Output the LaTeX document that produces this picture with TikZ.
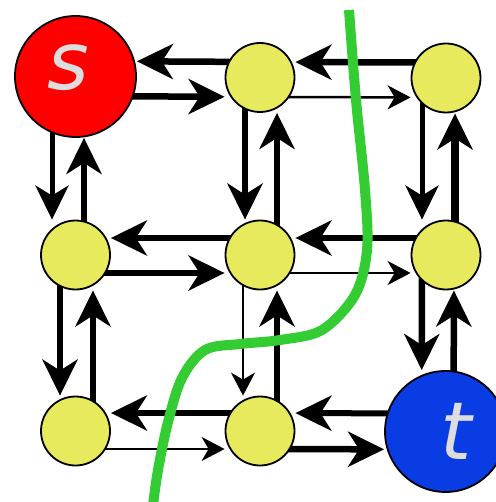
\documentclass[tikz,border=0pt]{standalone}
\usepackage{fontspec}
\usepackage{tikz}
\usetikzlibrary{arrows.meta,backgrounds}
\newfontfamily\termfont{DejaVu Sans}
\definecolor{srcred}{RGB}{255,0,0}
\definecolor{sinkblue}{RGB}{10,60,228}
\definecolor{vertyellow}{RGB}{232,234,94}
\definecolor{cutgreen}{RGB}{51,204,51}
\definecolor{termgrey}{RGB}{221,221,221}
\tikzset{
    vertex/.style={
        circle,
        draw,
        line width=1.8pt,
        fill=vertyellow,
        inner sep=0pt,
        minimum size=69pt
    },
    terminal/.style={
        circle,
        draw,
        line width=1.8pt,
        inner sep=0pt,
        minimum size=121pt
    },
    termlabel/.style={
        text=termgrey,
        font=\termfont\itshape\fontsize{80}{80}\selectfont
    },
    thickarrow/.style={
        line width=6.5pt,
        -{Stealth[length=36pt, width=35pt, inset=11pt]},
        shorten <=-12pt
    },
    midarrow/.style={
        line width=5pt,
        -{Stealth[length=34pt, width=33pt, inset=10pt]},
        shorten <=-12pt
    },
    thinarrow/.style={
        line width=2.5pt,
        -{Stealth[length=23pt, width=24pt, inset=7pt]},
        shorten <=-12pt
    },
    cut/.style={line width=10pt, draw=cutgreen}
}

\begin{document}
\begin{tikzpicture}[x=1pt, y=-1pt]

\useasboundingbox (0,0) rectangle (495,502);

% Source and sink
\node[terminal, fill=srcred,
      label={[termlabel, xshift=-7pt, yshift=9pt]center:s}] (s) at (75.5,76.5) {};
\node[terminal, fill=sinkblue,
      label={[termlabel, xshift=11pt]center:t}] (t) at (445.5,431.5) {};

% Inner vertices
\node[vertex] (tm) at (260,77.5) {};
\node[vertex] (tr) at (446,78) {};
\node[vertex] (ml) at (75.5,255) {};
\node[vertex] (mc) at (260,255) {};
\node[vertex] (mr) at (446,255) {};
\node[vertex] (bl) at (75.5,431) {};
\node[vertex] (bm) at (260,431) {};

\begin{scope}[on background layer]
% Top row
\draw[thickarrow, transform canvas={yshift=15.5pt}] (tm) -- (s);
\draw[thickarrow, transform canvas={yshift=-19.5pt}] (s) -- (tm);
\draw[thickarrow, transform canvas={yshift=15.5pt}] (tr) -- (tm);
\draw[thinarrow, transform canvas={yshift=-19.5pt}] (tm) -- (tr);

% Middle row
\draw[thickarrow, transform canvas={yshift=17pt}] (mc) -- (ml);
\draw[thickarrow, transform canvas={yshift=-18pt}] (ml) -- (mc);
\draw[thickarrow, transform canvas={yshift=17pt}] (mr) -- (mc);
\draw[thinarrow, transform canvas={yshift=-18pt}] (mc) -- (mr);

% Bottom row
\draw[thickarrow, transform canvas={yshift=18pt}] (bm) -- (bl);
\draw[thinarrow, transform canvas={yshift=-18pt}] (bl) -- (bm);
\draw[thickarrow, line width=6pt, transform canvas={yshift=18pt}] (t) -- (bm);
\draw[thickarrow, transform canvas={yshift=-18pt}] (bm) -- (t);

% Left column
\draw[midarrow, transform canvas={xshift=-23.5pt}] (s) -- (ml);
\draw[thickarrow, transform canvas={xshift=8.5pt}] (ml) -- (s);
\draw[thickarrow, transform canvas={xshift=-15.5pt}] (ml) -- (bl);
\draw[thickarrow, transform canvas={xshift=17.5pt}] (bl) -- (ml);

% Middle column
\draw[thickarrow, transform canvas={xshift=-15pt}] (tm) -- (mc);
\draw[thickarrow, transform canvas={xshift=17pt}] (mc) -- (tm);
\draw[thinarrow, transform canvas={xshift=-17pt}] (mc) -- (bm);
\draw[thickarrow, transform canvas={xshift=17pt}] (bm) -- (mc);

% Right column
\draw[midarrow, transform canvas={xshift=-24pt}] (tr) -- (mr);
\draw[thickarrow, line width=7.5pt, transform canvas={xshift=9pt}] (mr) -- (tr);
\draw[thickarrow, transform canvas={xshift=-24pt}] (mr) -- (t);
\draw[thickarrow, transform canvas={xshift=8pt}] (t) -- (mr);
\end{scope}

% Minimum cut
\draw[cut] plot[smooth, tension=0.55] coordinates {
    (349,10) (356,100) (365,190) (367,250) (355,295) (322,330)
    (280,340) (240,344) (205,350) (182,378) (168,422) (158,470) (153,505)};

\end{tikzpicture}
\end{document}
